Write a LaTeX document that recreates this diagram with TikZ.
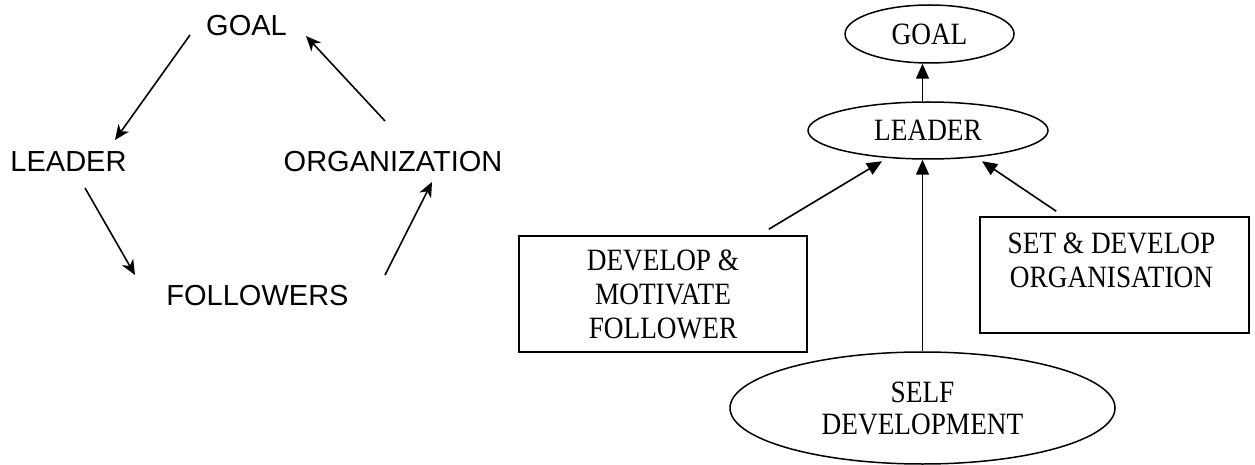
\documentclass[tikz,border=0pt]{standalone}
\usepackage{fontspec}
\setmainfont{Liberation Serif}[FakeStretch=0.88]
\newfontfamily\arialfont{Liberation Sans}
\usetikzlibrary{shapes.geometric,arrows.meta,calc}
\begin{document}
\begin{tikzpicture}[x=1pt,y=-1pt,
  sanstxt/.style={font=\arialfont\fontsize{29}{34}\selectfont, inner sep=0pt},
  sertxt/.style={font=\fontsize{31}{34}\selectfont, align=center, inner sep=0pt},
  oval/.style={draw, ellipse, line width=1.5pt, inner sep=0pt, font=\fontsize{31}{32}\selectfont, align=center},
  rbox/.style={draw, rectangle, line width=1.6pt, inner sep=0pt},
  larr/.style={line width=1.6pt, -{Stealth[length=15pt,width=13pt,inset=4.5pt]}},
  rarr/.style={line width=1.6pt, -{Triangle[length=15pt,width=13pt]}}]
\useasboundingbox (0,0) rectangle (1255,465);
% ---------- left cycle ----------
\node[sanstxt] (lgoal) at (246.5,26) {GOAL};
\node[sanstxt] (llead) at (68.5,162) {LEADER};
\node[sanstxt] (lorg) at (393,162) {ORGANIZATION};
\node[sanstxt] (lfol) at (257.5,296) {FOLLOWERS};
\draw[larr] ($(lgoal.center)+(-56.5,9)$) -- ($(llead.center)+(46.5,-22)$);
\draw[larr] ($(llead.center)+(16.5,26)$) -- ($(lfol.center)+(-122.5,-21)$);
\draw[larr] ($(lfol.center)+(127.5,-21)$) -- ($(lorg.center)+(39,20)$);
\draw[larr] ($(lorg.center)+(-8,-41)$) -- ($(lgoal.center)+(59.5,10)$);
% ---------- right diagram ----------
\node[oval, minimum width=169pt, minimum height=58pt] (goal) at (929.5,34) {GOAL};
\node[oval, minimum width=240pt, minimum height=57pt] (lead) at (928,130.5) {LEADER};
\node[oval, minimum width=385pt, minimum height=112pt] (self) at (922.5,408) {SELF\\DEVELOPMENT};
\node[rbox, sertxt, minimum width=288pt, minimum height=116pt] (dev) at (663,294) {DEVELOP \&\\MOTIVATE\\FOLLOWER};
\node[rbox, minimum width=269pt, minimum height=116pt] (set) at (1114.5,275) {};
\node[sertxt, anchor=north] (settxt) at ($(set.north)+(-3,16)$) {SET \& DEVELOP\\ORGANISATION};
\draw[rarr] (self.north) -- (self.north |- lead.south);
\draw[rarr] (self.north |- lead.north) -- (self.north |- goal.south);
\draw[rarr] ($(dev.north east)+(-39,-6)$) -- ($(lead.south)+(-46,1.5)$);
\draw[rarr] ($(set.north west)+(77,-5)$) -- ($(lead.south)+(54,1.5)$);
\end{tikzpicture}
\end{document}
